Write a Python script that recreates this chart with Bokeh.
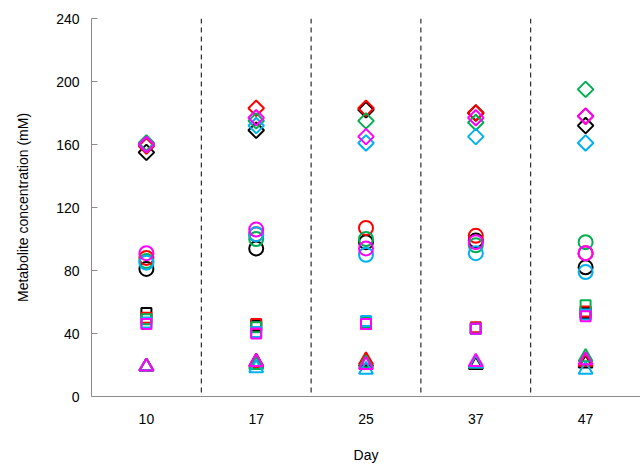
import math
from bokeh.plotting import figure
from bokeh.models import Range1d, FactorRange, FixedTicker, Span
from bokeh.embed import file_html
from bokeh.resources import INLINE

days = ["10", "17", "25", "37", "47"]
series_names = ["black", "red", "green", "cyan", "magenta"]
series_colors = ["#000000", "#ff0000", "#00b050", "#00b0f0", "#ff00ff"]

# metabolite A (diamonds)
diamonds = {
    "black":   [155, 169, 182, 180, 172],
    "red":     [159, 183, 183, 180, 178],
    "green":   [161, 175, 175, 174, 195],
    "cyan":    [160, 172, 161, 165, 161],
    "magenta": [160, 177, 165, 177, 178],
}
# metabolite B (circles)
circles = {
    "black":   [81, 94, 98, 99, 82],
    "red":     [88, 103, 107, 102, 91],
    "green":   [86, 100, 100, 96, 98],
    "cyan":    [85, 103, 90, 91, 79],
    "magenta": [91, 106, 94, 98, 91],
}
# metabolite C (squares)
squares = {
    "black":   [53, 45, 47, 43, 53],
    "red":     [50, 46, 46, 44, 54],
    "green":   [49, 44, 47, 43, 58],
    "cyan":    [47, 41, 48, 43, 52],
    "magenta": [46, 40, 46, 43, 51],
}
# metabolite D (triangles)
triangles = {
    "black":   [19, 22, 22, 20, 21],
    "red":     [19, 21, 23, 21, 22],
    "green":   [19, 20, 21, 21, 25],
    "cyan":    [19, 18, 17, 21, 17],
    "magenta": [19, 22, 20, 22, 23],
}
y_ticks = [0, 40, 80, 120, 160, 200, 240]

p = figure(width=640, height=465, x_range=FactorRange(*days), y_range=Range1d(0, 240),
           output_backend="svg", toolbar_location=None,
           min_border_left=91, min_border_right=0, min_border_top=18, min_border_bottom=66)
p.outline_line_color = None
p.xgrid.grid_line_color = None
p.ygrid.grid_line_color = None
p.background_fill_color = "white"

font = "Liberation Sans"
p.yaxis.ticker = FixedTicker(ticks=y_ticks)
p.yaxis.axis_label = "Metabolite concentration (mM)"
p.xaxis.axis_label = "Day"
for ax in (p.xaxis[0], p.yaxis[0]):
    ax.axis_line_color = "#8c8c8c"
    ax.axis_line_width = 1
    ax.major_tick_line_color = "#8c8c8c"
    ax.minor_tick_line_color = None
    ax.major_label_text_font = font
    ax.major_label_text_font_size = "14px"
    ax.major_label_text_color = "#000000"
    ax.axis_label_text_font = font
    ax.axis_label_text_font_size = "14px"
    ax.axis_label_text_font_style = "normal"
    ax.axis_label_text_color = "#000000"
p.yaxis.major_tick_in = 6
p.yaxis.major_tick_out = 0
p.yaxis.major_label_standoff = 12
p.yaxis.axis_label_standoff = 22
p.xaxis.major_tick_in = 0
p.xaxis.major_tick_out = 0
p.xaxis.major_tick_line_color = None
p.xaxis.major_label_standoff = 17
p.xaxis.axis_label_standoff = 20

for loc in [1, 2, 3, 4]:
    p.add_layout(Span(location=loc, dimension="height", line_color="#000000",
                      line_width=1, line_dash="5 4"))

for name, color in zip(series_names, series_colors):
    p.scatter(x=days, y=triangles[name], marker="triangle", size=14,
              fill_color=None, line_color=color, line_width=2)
    p.scatter(x=days, y=squares[name], marker="square", size=10,
              fill_color=None, line_color=color, line_width=2)
    p.scatter(x=days, y=circles[name], marker="circle", size=14,
              fill_color=None, line_color=color, line_width=2)
    p.scatter(x=days, y=diamonds[name], marker="square", size=11, angle=math.pi / 4,
              fill_color=None, line_color=color, line_width=2)

open("out.html", "w").write(file_html(p, INLINE))
